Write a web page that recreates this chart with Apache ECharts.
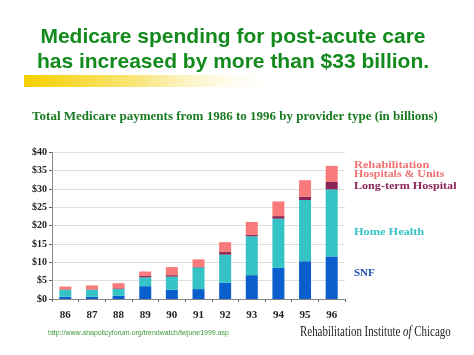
<!DOCTYPE html>
<html><head><meta charset="utf-8">
<script src="https://cdn.jsdelivr.net/npm/echarts@6/dist/echarts.min.js"></script>
<style>html,body{margin:0;padding:0;background:#fff}#c{width:474px;height:355px}</style>
</head><body><div id="c"></div>
<script>
const categories = ['86','87','88','89','90','91','92','93','94','95','96'];
const snf   = [0.6,0.6,0.9,3.5,2.5,2.7,4.4,6.5,8.5,10.3,11.6];
const homeHealth = [1.9,1.9,1.8,2.4,3.6,5.9,7.7,10.6,13.4,16.7,18.3];
const longTerm = [0.1,0.1,0.2,0.4,0.4,0.2,0.7,0.4,0.7,0.9,2.0];
const rehab = [0.8,1.1,1.4,1.2,2.2,2.0,2.7,3.5,4.0,4.5,4.4];
const yTicks = ['$0','$5','$10','$15','$20','$25','$30','$35','$40'];

const chart = echarts.init(document.getElementById('c'));
const serif = '"Liberation Serif", "DejaVu Serif", serif';
const sans = '"Liberation Sans", Arial, sans-serif';
function bar(name, data, color){
  return {name, type:'bar', stack:'t', data, barWidth:12, itemStyle:{color}};
}
function txt(x, y, text, font, fill, extra){
  return Object.assign({type:'text', x, y, style:{text, font, fill, textVerticalAlign:'middle'}}, extra||{});
}
chart.setOption({
  animation:false,
  grid:{left:52, right:129, top:152.3, bottom:56},
  xAxis:{type:'category', data:categories,
    axisLine:{lineStyle:{color:'#888'}},
    axisTick:{show:true, length:3, lineStyle:{color:'#666'}},
    axisLabel:{fontFamily:serif, fontWeight:'bold', fontSize:11, color:'#222', margin:11}},
  yAxis:{type:'value', min:0, max:40, interval:5,
    axisLine:{show:true, lineStyle:{color:'#888'}},
    axisTick:{show:true, length:3, lineStyle:{color:'#666'}},
    splitLine:{lineStyle:{color:'#ddd'}},
    axisLabel:{fontFamily:serif, fontWeight:'bold', fontSize:10, color:'#222', margin:5,
      formatter:(v)=>yTicks[v/5]}},
  series:[
    bar('SNF', snf, '#0b5fcc'),
    bar('Home Health', homeHealth, '#35c3c6'),
    bar('Long-term Hospital', longTerm, '#8a2356'),
    bar('Rehabilitation Hospitals & Units', rehab, '#f97a7a')
  ],
  graphic:[
    {type:'rect', shape:{x:24,y:75,width:260,height:12},
      style:{fill:new echarts.graphic.LinearGradient(0,0,1,0,[{offset:0,color:'#f5d000'},{offset:0.45,color:'#f9e680'},{offset:1,color:'rgba(255,255,255,0)'}])}},
    {type:'text', x:233, y:37, style:{text:'Medicare spending for post-acute care', font:'bold 21px '+sans, fill:'#128a1c', textAlign:'center', textVerticalAlign:'middle'}},
    {type:'text', x:233, y:62, style:{text:'has increased by more than $33 billion.', font:'bold 21px '+sans, fill:'#128a1c', textAlign:'center', textVerticalAlign:'middle'}},
    {type:'text', x:235, y:117, style:{text:'Total Medicare payments from 1986 to 1996 by provider type (in billions)', font:'bold 13px '+serif, fill:'#1a7a22', textAlign:'center', textVerticalAlign:'middle'}},
    txt(354, 165, 'Rehabilitation', 'bold 11px '+serif, '#f07070', {scaleX:1.12}),
    txt(354, 174, 'Hospitals & Units', 'bold 11px '+serif, '#f07070', {scaleX:1.08}),
    txt(354, 186, 'Long-term Hospital', 'bold 11px '+serif, '#8a2356', {scaleX:1.1}),
    txt(354, 232, 'Home Health', 'bold 11px '+serif, '#35c3c6', {scaleX:1.12}),
    txt(354, 273, 'SNF', 'bold 11px '+serif, '#1a50b0'),
    txt(48, 333, 'http://www.ahapolicyforum.org/trendwatch/twjune1999.asp', '7px '+sans, '#3a9a3a'),
    {type:'text', x:300, y:332, scaleX:0.78, style:{text:'{a|Rehabilitation Institute }{b|of}{a| Chicago}', textVerticalAlign:'middle', rich:{a:{font:'14px '+serif, fill:'#222'}, b:{font:'italic 14px '+serif, fill:'#222'}}}}
  ]
});
</script></body></html>
